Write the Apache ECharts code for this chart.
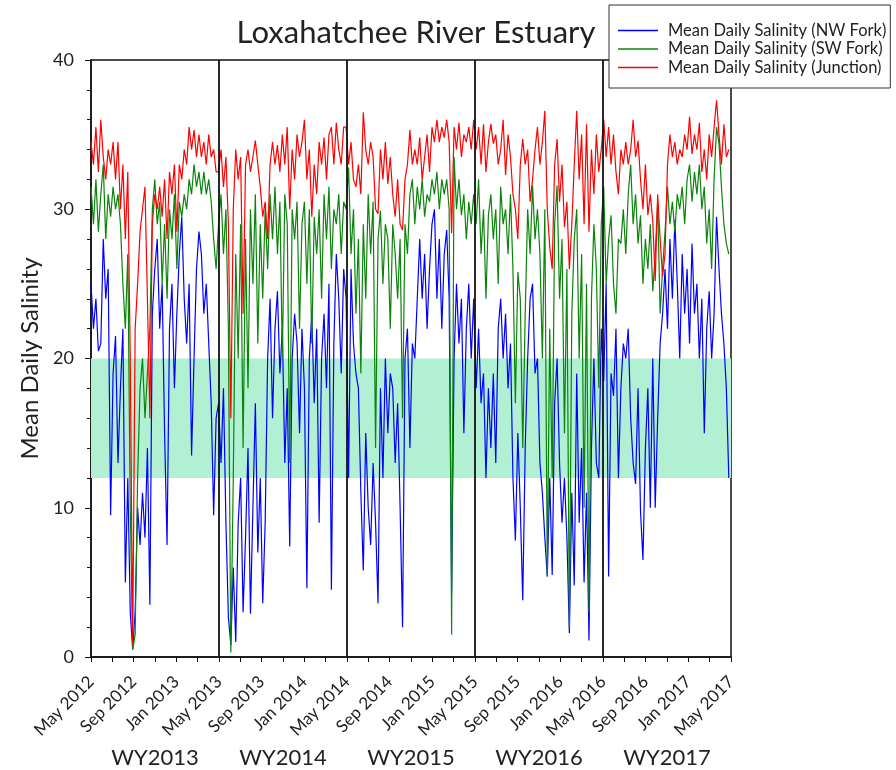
<!DOCTYPE html>
<html>
<head>
<meta charset="utf-8">
<script src="https://cdn.jsdelivr.net/npm/echarts@6/dist/echarts.min.js"></script>
<style>
  body { margin: 0; background: #fff; }
  #main { width: 896px; height: 770px; }
</style>
</head>
<body>
<div id="main"></div>
<script>
// weekly values, starting 1 May 2012 (one row = one water year)
var nwFork = [
  25,22,24,20.5,21,28,24,26,9.5,19,21.5,13,18,22,5,12,3,0.5,3,10,7.5,11,8,14,3.5,23,26,28,22,25,15,7.5,22,25,18,23,27,29.5,24,21,25,13.5,20,26,28.5,27,23,25,21,17,9.5,16,
  17,13,18,9,2.7,0.8,6,1,9,12,3,8,14,2.9,10,17,7,12,3.6,9,20,24,16,22,24.5,19,22,13,18,7.4,20,23,21,15,22,18,4.6,20,23,17,22,9,20,23,18,25,4.5,21,27,24,19,26,
  24,12,26,21,19,18,11,5.8,15,10,7.5,13,9,3.6,18,12,20,15,19,18,13,17,10,2,20,22,14,21,20,24,28,24,27,22,26,29,30,24,28,22,27,28.6,24,4.3,20,25,21,24,15,22,25,20,
  24,18,22,17,19,12,18,14,19,13,22,24,20,23,18,21,12,7.8,15,10,3.8,14,20,24,25,19,20,13,11,8,5.4,12,5.5,17,20,13,9,12,8,1.6,11,4.8,19,9,14,5,11,1.1,14,20,13,12,
  22,18.5,25,5.4,19,17.5,22,12,18,21,20,22,16,13,11.6,18,9.8,6.5,14,18,10,20,10,16,21,23,26,22,28,24,29.3,25,20,27,23,26,21,27.7,23,25,20,24,15,22,24.5,20,23,29.5,26,23,21,18,12
];
var swFork = [
  31.5,29,32,28.5,31,33,28,31,29.5,31.5,30,31,29,25,22,27,10,0.5,1.5,12,18,20,16,19,22,30,32,29,30.5,25,29,24,30,28,31,26,30.5,29.5,31,30,32,31,33,31.5,32.5,31,32.5,31,32,30.5,28,26,
  29,31,27,30,22,0.3,12,27,20,29,14,28,18,30,25,31,21,29,24,30,26,31,28,31.5,27,30.5,20,31,29,13,30,28,30.5,22,29,30.5,25,30,21,29.5,27,30,24,31,28,31.5,26,30,29,31,27,30.5,
  30,32.8,27,30,23,28,19,29,24,31,27,30.5,14,28,29.9,25,29,28,22,29,27,24,28,16,29,27,31,32,29,31.5,30,32,29.5,31,30.5,32,31,32.5,30,32,31,32,30,1.5,33.5,30,32,29.6,31,28,30.5,29,
  31,29,32,27,30,24,29.6,31,28,30,25,31.5,29,30,27,31,26,17,25.8,24,14,23,30,27,31.6,28,30,27,20,30,5.4,22,12,29,31.6,24,28,15,26,2,23,28,30,20,27,10,25,3,24,29,26,18,
  29,31.5,25,28,29.6,25,23,28,27.7,30,27,31,33,29,31,27.7,29.6,25,28,26,29,24.5,27,30.5,23,26,28.5,31.5,29,30.5,28.5,31,30,31.5,29,32,33,30.5,32.5,31,33,30,31.5,27.7,30,26,32,35.5,34.4,31.5,29,27.7,27
];
var junction = [
  34.5,33,35.5,32.5,36,33.5,32,34,33,34.5,32,34.5,30,33,28,32.5,20,0.8,22,25,28.5,30,31.5,24,16,29,31,30,31.5,29.5,32,28,32.5,31,33,28.5,33,32,34,33,35.5,34,35.3,33.5,35,33.5,34.5,33,35,33.5,34,32.5,
  32.5,34,31.5,33.5,29,16,30,34,32,33.5,23,33,34,32.5,33.5,34.6,33,31.5,29.5,30.5,28,33,34.5,33,34.3,32.5,35,33,35.5,30,34,32,35,33.5,34.5,36,32,34,29.5,33,31,34.5,33,34.8,32,35,35.5,33,35.8,34,33,35.5,
  35.5,33,34.5,32,31.5,33,31,36.5,34,33,34.5,33.5,30,29.7,34,32,34.5,31.7,33.5,31,29.5,32,29,28.6,32,33,35.3,33,34,33,34.8,32,33.5,35,32.5,35.5,34.5,36,34.5,35.5,34.8,36,34.5,28.4,35.5,34,35.8,33.5,35,34.5,35.5,34,
  36,34,35.5,33,35.7,32.5,34.5,35.7,34.4,35,33,34,36,32.3,35,33.5,31,30,28,33,34.7,33,34,30.5,32,34,35.5,33,34.5,36.6,30,27.5,26,33,34.7,30.5,33,28.8,30.5,26,29,33,36.6,32,35,29,35.7,28.5,34,31,35,32.5,
  34,36,33.5,35.5,33,35,32.5,31,34,33,34.5,33,34,36,33.5,34.6,32,30,33,29.6,31,29.2,25.2,31,28,25.5,27,33,35,33.5,34.5,33,34,33.5,35,34,36.2,33.7,35,34,35.8,32.5,34,32,35,33.5,35.5,37.3,35,33,35.7,33.5,34
];
var xLabels = ['May 2012','Sep 2012','Jan 2013','May 2013','Sep 2013','Jan 2014','May 2014','Sep 2014',
  'Jan 2015','May 2015','Sep 2015','Jan 2016','May 2016','Sep 2016','Jan 2017','May 2017'];
var wyLabels = ['WY2013','WY2014','WY2015','WY2016','WY2017'];
var wyBreaks = [12, 24, 36, 48];   // months since May 2012
var band = [12, 20];
var names = ['Mean Daily Salinity (NW Fork)','Mean Daily Salinity (SW Fork)','Mean Daily Salinity (Junction)'];

var FONT = 'Lato';
var TXT = '#222';

// x in months since 1 May 2012
function toXY(arr) {
  return arr.map(function (v, i) { return [i * 7 / 30.4375, v]; });
}

var chart = echarts.init(document.getElementById('main'));
chart.setOption({
  animation: false,
  textStyle: { fontFamily: FONT },
  title: {
    text: 'Loxahatchee River Estuary',
    left: 411, top: 12, textAlign: 'center',
    textStyle: { fontSize: 31, fontWeight: 'normal', color: TXT, fontFamily: FONT }
  },
  legend: {
    data: names,
    orient: 'vertical',
    left: 609, top: 5,
    padding: [17, 4, 12, 9],
    itemGap: 1.5, itemWidth: 40, itemHeight: 1.3, icon: 'rect',
    backgroundColor: '#fff', borderColor: '#333', borderWidth: 1,
    textStyle: { fontSize: 16.5, color: TXT, fontFamily: FONT, padding: [0, 0, 0, 5] }
  },
  grid: {
    left: 91, right: 165, top: 60, bottom: 113,
    show: true, borderColor: '#111', borderWidth: 1.5, backgroundColor: 'transparent'
  },
  xAxis: [{
    type: 'value', min: 0, max: 60, interval: 2,
    axisLine: { show: true, onZero: false, lineStyle: { color: '#111', width: 1.5 } },
    axisTick: { show: true, length: 5, lineStyle: { color: '#111' } },
    splitLine: { show: false },
    axisLabel: {
      rotate: 45, fontSize: 17, color: TXT, margin: 22,
      formatter: function (v) { return v % 4 === 0 ? xLabels[v / 4] : ''; }
    }
  }, {
    type: 'category', data: wyLabels, position: 'bottom', offset: 82,
    axisLine: { show: false }, axisTick: { show: false }, splitLine: { show: false },
    axisLabel: { fontSize: 22, color: TXT, interval: 0 }
  }],
  yAxis: {
    type: 'value', min: 0, max: 40, interval: 10,
    name: 'Mean Daily Salinity', nameLocation: 'middle', nameGap: 48,
    nameTextStyle: { fontSize: 24, color: TXT },
    axisLine: { show: true, lineStyle: { color: '#111', width: 1.5 } },
    axisTick: { show: true, length: 6, lineStyle: { color: '#111' } },
    minorTick: { show: true, splitNumber: 5, length: 4, lineStyle: { color: '#111' } },
    splitLine: { show: false },
    axisLabel: { fontSize: 18, color: TXT, margin: 17 }
  },
  series: [{
    name: names[0], type: 'line', data: toXY(nwFork), symbol: 'none',
    lineStyle: { width: 1.2, color: '#0000ff' }, itemStyle: { color: '#0000ff' },
    markArea: {
      silent: true, itemStyle: { color: '#b2f0d3' },
      data: [[{ yAxis: band[0] }, { yAxis: band[1] }]]
    }
  }, {
    name: names[1], type: 'line', data: toXY(swFork), symbol: 'none',
    lineStyle: { width: 1.2, color: '#0a840a' }, itemStyle: { color: '#0a840a' }
  }, {
    name: names[2], type: 'line', data: toXY(junction), symbol: 'none',
    lineStyle: { width: 1.2, color: '#ff0000' }, itemStyle: { color: '#ff0000' },
    markLine: {
      silent: true, symbol: 'none', label: { show: false },
      lineStyle: { color: '#111', type: 'solid', width: 1.8 },
      data: wyBreaks.map(function (m) { return { xAxis: m }; })
    }
  }]
});
</script>
</body>
</html>
